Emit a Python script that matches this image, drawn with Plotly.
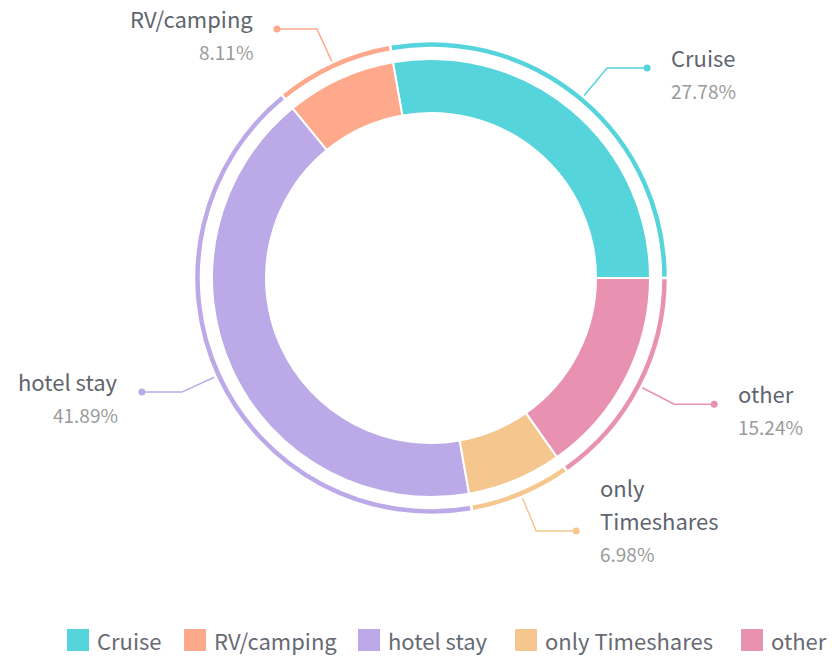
import math
import plotly.graph_objects as go

# Share of travellers by preferred type of stay
categories = ["Cruise", "RV/camping", "hotel stay", "only Timeshares", "other"]
shares = [27.78, 8.11, 41.89, 6.98, 15.24]
label_names = [["Cruise"], ["RV/camping"], ["hotel stay"], ["only", "Timeshares"], ["other"]]
colors = ["#56D4DB", "#FFA98C", "#BCA9E8", "#F5C78E", "#E991B0"]

W, H = 832, 658
CX, CY = 431, 278          # pie centre in px
R_IN = 219                 # outer radius of the main ring
HOLE_IN = 165 / 219
R_OUT = 237                # thin outer ring
HOLE_OUT = 230 / 237

FONT = "Noto Sans CJK SC"
NAME_COLOR = "#60646e"
PCT_COLOR = "#9a9a9a"
LINE_STEP = 33             # vertical step between wrapped label lines

total = sum(shares)
# Plotly anchors the end of the first slice at `rotation` when drawing
# counterclockwise, so shift it to make the first slice start at 3 o'clock.
rotation = 90 - 360.0 * shares[0] / total


def domain(r):
    return dict(
        x=[(CX - r) / W, (CX + r) / W],
        y=[(H - CY - r) / H, (H - CY + r) / H],
    )


fig = go.Figure()

common = dict(
    labels=categories,
    values=shares,
    sort=False,
    direction="counterclockwise",
    rotation=rotation,
    textinfo="none",
    hoverinfo="label+percent",
    showlegend=False,
)

fig.add_trace(go.Pie(
    domain=domain(R_IN), hole=HOLE_IN,
    marker=dict(colors=colors, line=dict(color="white", width=2)),
    **common,
))
fig.add_trace(go.Pie(
    domain=domain(R_OUT), hole=HOLE_OUT,
    marker=dict(colors=colors, line=dict(color="white", width=2.5)),
    **common,
))

# Leader lines and labels, placed at each slice's mid angle
annotations = []
start = 0.0
for lines, val, col in zip(label_names, shares, colors):
    span = 360.0 * val / total
    mid = math.radians(start + span / 2)
    start += span
    c, s = math.cos(mid), math.sin(mid)
    x1, y1 = CX + 236 * c, CY - 236 * s
    x2, y2 = CX + 274 * c, CY - 274 * s
    side = 1 if c >= 0 else -1
    x3 = x2 + side * 40
    fig.add_trace(go.Scatter(
        x=[x1, x2, x3], y=[y1, y2, y2], mode="lines",
        line=dict(color=col, width=1.5), hoverinfo="skip", showlegend=False,
    ))
    fig.add_trace(go.Scatter(
        x=[x3], y=[y2], mode="markers",
        marker=dict(color=col, size=7), hoverinfo="skip", showlegend=False,
    ))
    tx = x3 + side * 22
    anchor = "left" if side > 0 else "right"
    for k, line in enumerate(reversed(lines)):
        annotations.append(dict(
            x=tx, y=y2 + 7 - k * LINE_STEP, xref="x", yref="y", text=line,
            showarrow=False, xanchor=anchor, yanchor="bottom",
            font=dict(family=FONT, size=22, color=NAME_COLOR),
        ))
    annotations.append(dict(
        x=tx, y=y2 + 7, xref="x", yref="y", text=f"{val:.2f}%", showarrow=False,
        xanchor=anchor, yanchor="top",
        font=dict(family=FONT, size=19, color=PCT_COLOR),
    ))

# Legend row along the bottom
legend_x = [67, 184, 358, 515, 741]
legend_y = 640
fig.add_trace(go.Scatter(
    x=[x + 11 for x in legend_x], y=[legend_y] * len(legend_x), mode="markers",
    marker=dict(symbol="square", size=22, color=colors, line=dict(width=0)),
    hoverinfo="skip", showlegend=False,
))
for x, name in zip(legend_x, categories):
    annotations.append(dict(
        x=x + 28, y=legend_y, xref="x", yref="y", text=name, showarrow=False,
        xanchor="left", yanchor="middle",
        font=dict(family=FONT, size=22, color="#666a73"),
    ))

fig.update_layout(
    width=W, height=H,
    margin=dict(l=0, r=0, t=0, b=0),
    paper_bgcolor="white", plot_bgcolor="rgba(0,0,0,0)",
    xaxis=dict(range=[0, W], visible=False, fixedrange=True),
    yaxis=dict(range=[H, 0], visible=False, fixedrange=True),
    annotations=annotations,
    font=dict(family=FONT),
)

fig.write_html("out.html")
